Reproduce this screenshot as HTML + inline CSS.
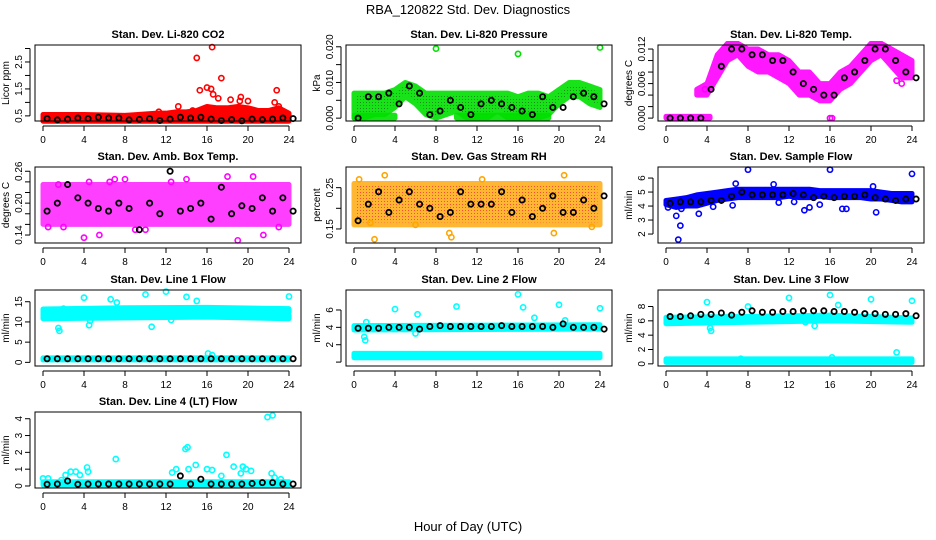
<!DOCTYPE html>
<html><head><meta charset="utf-8"><style>
html,body{margin:0;padding:0;background:#fff}
svg{display:block;font-family:"Liberation Sans",sans-serif}
</style></head><body>
<svg id="c" width="936" height="540" viewBox="0 0 936 540">
<defs>
<pattern id="pat-rh" width="3" height="3" patternUnits="userSpaceOnUse"><rect width="3" height="3" fill="#ffa500"/><rect width="1" height="1" fill="#ff2000"/></pattern>
<pattern id="pat-pr" width="3" height="3" patternUnits="userSpaceOnUse"><rect width="3" height="3" fill="#00e000"/><rect width="1" height="1" fill="#008000"/></pattern>
</defs>
<text x="468" y="14" font-size="13" text-anchor="middle">RBA_120822  Std. Dev. Diagnostics</text>
<text x="468" y="531" font-size="13" text-anchor="middle">Hour of Day (UTC)</text>
</svg>
<script>
// ---- data ----
const xTicks=[0,4,8,12,16,20,24];
// P1 CO2
const co2Band={h:[0,4,8,11,12,13,14,15,16,17,18,19,20,21,22,23,24],lo:[0.3,0.3,0.3,0.3,0.3,0.3,0.3,0.3,0.3,0.3,0.3,0.3,0.3,0.3,0.3,0.3,0.3],hi:[0.55,0.55,0.52,0.6,0.6,0.65,0.65,0.7,0.85,0.8,0.8,0.85,0.8,0.7,0.7,0.8,0.6]};
const co2Out=[[15,2.65],[16.5,3.05],[17.4,1.9],[15.3,1.45],[16,1.55],[16.4,1.5],[16.6,1.3],[17.1,1.15],[18.3,1.1],[19.3,1.2],[19.2,1.05],[20,1.05],[22.8,1.45],[22.6,1.0],[13.2,0.85],[14.6,0.7],[23,0.85],[11.3,0.65]];
const co2Black=[0.4,0.35,0.38,0.42,0.4,0.45,0.42,0.42,0.35,0.37,0.4,0.33,0.38,0.45,0.42,0.45,0.38,0.33,0.36,0.32,0.38,0.36,0.38,0.42,0.4];
// P2 Pressure
const prBand={h:[0,1,2,3,4,5,6,7,8,9,10,11,12,13,14,15,16,17,18,19,20,21,22,23,24],
lo:[0,0,0.001,0.001,0.003,0.006,0.004,0.001,0,0.001,0.002,0,0,0,0.002,0,0,0,0,0.001,0.004,0.006,0.006,0.004,0.003],
hi:[0.007,0.007,0.007,0.007,0.008,0.01,0.009,0.007,0.007,0.007,0.007,0.007,0.007,0.007,0.007,0.007,0.006,0.007,0.007,0.006,0.008,0.01,0.01,0.009,0.008]};
const prBand2={h:[0,4],lo:[0,0],hi:[0.0008,0.0008]};
const prBand3={h:[10,19],lo:[0,0],hi:[0.0008,0.0008]};
const prOut=[[8,0.0195],[16,0.018],[24,0.0198]];
const prBlack=[0,0.006,0.006,0.007,0.004,0.009,0.007,0.001,0.002,0.005,0.003,0.001,0.004,0.005,0.004,0.003,0.002,0.001,0.006,0.003,0.003,0.006,0.007,0.006,0.004];
// P3 Temp
const tpBand={h:[3,4,5,6,7,8,9,10,11,12,13,14,15,16,17,18,19,20,21,22,23,24],
lo:[0.004,0.004,0.007,0.010,0.011,0.009,0.008,0.008,0.007,0.006,0.004,0.004,0.003,0.003,0.005,0.006,0.008,0.010,0.011,0.009,0.007,0.007],
hi:[0.005,0.006,0.011,0.013,0.013,0.012,0.012,0.011,0.011,0.010,0.008,0.008,0.006,0.006,0.008,0.009,0.011,0.013,0.013,0.012,0.011,0.010]};
const tpBand2={h:[0,4.3],lo:[0,0],hi:[0.0003,0.0003]};
const tpOut=[[16,0],[16.2,0],[3.8,0.005],[23,0.006],[22.5,0.0065]];
const tpBlack=[0,0,0,0,0.005,0.009,0.012,0.012,0.011,0.011,0.010,0.010,0.008,0.006,0.005,0.004,0.004,0.007,0.008,0.010,0.012,0.012,0.010,0.008,0.007];
// P4 Amb box
const abBand={h:[0,24],lo:[0.16,0.16],hi:[0.235,0.235]};
const abOut=[[0.5,0.155],[1.5,0.235],[4,0.135],[4.5,0.24],[6.5,0.24],[7,0.245],[8,0.245],[9,0.15],[10,0.15],[14,0.245],[18,0.25],[19,0.13],[20.5,0.25],[21.5,0.14],[23,0.155],[2,0.155],[5.5,0.14],[12.5,0.24]];
const abBlack=[0.185,0.2,0.235,0.21,0.2,0.19,0.185,0.2,0.19,0.15,0.2,0.18,0.26,0.185,0.19,0.2,0.17,0.23,0.18,0.195,0.19,0.21,0.185,0.21,0.185];
// P5 RH
const rhBand={h:[0,24],lo:[0.16,0.16],hi:[0.26,0.26]};
const rhOut=[[2,0.125],[3,0.28],[9.5,0.13],[9.3,0.14],[20.5,0.28],[19.5,0.14],[0.5,0.27],[1.6,0.165],[12.5,0.27],[23.2,0.155],[6,0.16]];
const rhBlack=[0.17,0.21,0.24,0.19,0.22,0.24,0.21,0.2,0.18,0.19,0.24,0.21,0.21,0.21,0.24,0.19,0.22,0.18,0.2,0.23,0.19,0.19,0.22,0.2,0.23];
// P6 Sample flow
const sfBand={h:[0,1,2,3,4,5,6,7,8,9,10,11,12,13,14,15,16,17,18,19,20,21,22,23,24],
lo:[4.1,3.9,4.0,4.0,4.2,4.4,4.5,4.6,4.6,4.6,4.6,4.6,4.7,4.6,4.6,4.7,4.6,4.6,4.6,4.6,4.5,4.5,4.4,4.3,4.3],
hi:[4.4,4.5,4.6,4.8,4.9,5.0,5.1,5.2,5.2,5.2,5.2,5.2,5.2,5.2,5.2,5.1,5.1,5.1,5.1,5.1,5.1,5.0,4.9,4.9,4.9]};
const sfOut=[[1,3.3],[1.2,1.6],[1.4,2.6],[1.5,3.8],[3.2,3.45],[6.5,4.05],[6.8,5.6],[8,6.6],[10.5,5.55],[13.5,3.7],[14,3.9],[15,4.1],[16,6.6],[17.2,3.8],[17.6,3.8],[20.2,5.4],[20.5,3.55],[24,6.3],[11,4.25],[12.5,4.3],[0.2,3.9],[4.6,3.95]];
const sfBlack=[4.2,4.3,4.3,4.3,4.4,4.4,4.7,5.0,4.8,4.8,4.8,4.8,4.9,4.8,4.6,4.7,4.6,4.7,4.7,4.8,4.6,4.5,4.4,4.5,4.5];
// P7 Line 1
const l1BandA={h:[0,8,16,24],lo:[10.8,11.0,11.2,10.8],hi:[11.8,12.0,12.2,11.6]};
const l1BandB={h:[0,8,16,24],lo:[12.0,12.4,12.6,12.4],hi:[13.2,13.5,13.6,13.3]};
const l1BandC={h:[0,24],lo:[0.6,0.6],hi:[1.1,1.1]};
const l1Out=[[1.5,8.5],[1.6,7.8],[2,13.3],[4,16],[4.5,9.2],[4.6,10.3],[6.6,15.6],[7.2,14.8],[10,16.8],[10.6,8.8],[12,17.5],[14,16.2],[15,15.2],[16.1,2.2],[16.5,1.8],[24,16.3],[12.5,10.5]];
const l1Black=[0.9,0.9,0.9,0.9,0.9,0.9,0.9,0.9,0.9,0.9,0.9,0.9,0.9,0.9,0.9,0.9,0.9,0.9,0.9,0.9,0.9,0.9,0.9,0.9,0.9];
// P8 Line 2
const l2BandA={h:[0,24],lo:[3.7,3.8],hi:[4.2,4.3]};
const l2BandB={h:[0,24],lo:[0.5,0.5],hi:[1.0,1.0]};
const l2Out=[[1,2.9],[1.1,2.5],[1.2,4.6],[4,6.1],[6.2,5.5],[6,3.3],[10,6.4],[16,7.8],[16.5,6.3],[17.6,5.1],[20,6.6],[20.6,4.8],[24,6.2]];
const l2Black=[3.9,3.9,3.9,4.0,4.0,4.0,3.8,4.1,4.2,4.1,4.1,4.1,4.1,4.1,4.2,4.1,4.1,4.1,4.1,4.0,4.4,4.0,4.0,4.0,3.8];
// P9 Line 3
const l3BandA={h:[0,8,16,24],lo:[5.6,5.8,6.0,5.8],hi:[6.5,6.6,6.8,6.4]};
const l3BandB={h:[0,24],lo:[0.2,0.2],hi:[0.7,0.7]};
const l3Out=[[4,8.6],[4.3,5],[4.4,4.6],[8,8],[12,9.2],[16,9.6],[16.8,8.2],[20,9],[24,8.8],[14.5,5.3],[22.5,1.6],[7.3,0.7],[16.2,0.9],[13.6,5.8]];
const l3Black=[6.6,6.6,6.7,6.9,6.9,7.1,6.8,7.2,7.4,7.2,7.2,7.3,7.3,7.4,7.4,7.4,7.3,7.3,7.2,7.0,7.0,6.9,6.9,7.0,6.7];
// P10 Line 4
const l4Band={h:[0,24],lo:[0.05,0.05],hi:[0.25,0.25]};
const l4Out=[[0,0.45],[0.5,0.45],[1.8,0.35],[2.2,0.65],[2.7,0.85],[3.2,0.85],[3.6,0.65],[4.3,1.1],[4.4,0.85],[7.1,1.6],[12.6,0.8],[13,1.0],[13.9,2.2],[14.1,2.3],[14.2,1.0],[14.9,1.25],[16,1.0],[16.5,0.95],[17.4,0.6],[17.9,1.85],[18.6,1.15],[19.3,0.75],[19.5,1.15],[19.8,1.0],[20.3,0.9],[21.9,4.1],[22.4,4.2],[22.3,0.75],[22.6,0.5],[23.2,0.4]];
const l4Black=[0.1,0.12,0.3,0.1,0.12,0.12,0.12,0.12,0.12,0.12,0.12,0.12,0.12,0.6,0.12,0.4,0.12,0.12,0.12,0.12,0.15,0.2,0.2,0.12,0.12];

const panels=[
 {name:'co2',title:'Stan. Dev. Li-820 CO2',yl:'Licor ppm',col:'#ff0000',fill:'#ff0000',op:1,dom:[0.31,3.13],ticks:[0.5,1,1.5,2,2.5,3],labs:[0.5,1.5,2.5],fmt:1,bands:[co2Band],out:co2Out,black:co2Black,r:0,c:0},
 {name:'pressure',title:'Stan. Dev. Li-820 Pressure',yl:'kPa',col:'#00e000',fill:'url(#pat-pr)',op:0.9,dom:[-0.0008,0.0205],ticks:[0,0.005,0.01,0.015,0.02],labs:[0,0.01,0.02],fmt:3,bands:[prBand,prBand2,prBand3],out:prOut,black:prBlack,r:0,c:1},
 {name:'temp',title:'Stan. Dev. Li-820 Temp.',yl:'degrees C',col:'#ff00ff',fill:'#ff00ff',op:0.9,dom:[-0.0005,0.0127],ticks:[0,0.002,0.004,0.006,0.008,0.01,0.012],labs:[0,0.006,0.012],fmt:3,bands:[tpBand,tpBand2],out:tpOut,black:tpBlack,r:0,c:2},
 {name:'amb-box',title:'Stan. Dev. Amb. Box Temp.',yl:'degrees C',col:'#ff00ff',fill:'#ff00ff',op:0.75,dom:[0.125,0.268],ticks:[0.14,0.16,0.18,0.2,0.22,0.24,0.26],labs:[0.14,0.2,0.26],fmt:2,bands:[abBand],out:abOut,black:abBlack,r:1,c:0},
 {name:'rh',title:'Stan. Dev. Gas Stream RH',yl:'percent',col:'#ffa500',fill:'url(#pat-rh)',op:0.8,dom:[0.116,0.30],ticks:[0.15,0.2,0.25],labs:[0.15,0.25],fmt:2,bands:[rhBand],out:rhOut,black:rhBlack,r:1,c:1},
 {name:'sample-flow',title:'Stan. Dev. Sample Flow',yl:'ml/min',col:'#0000ff',fill:'#0000ff',op:1,dom:[1.36,6.79],ticks:[2,3,4,5,6],labs:[2,3,4,5,6],fmt:0,bands:[sfBand],out:sfOut,black:sfBlack,r:1,c:2},
 {name:'line1',title:'Stan. Dev. Line 1 Flow',yl:'ml/min',col:'#00ffff',fill:'#00ffff',op:1,dom:[-0.9,17.9],ticks:[0,5,10,15],labs:[0,5,10,15],fmt:0,bands:[l1BandA,l1BandB,l1BandC],out:l1Out,black:l1Black,r:2,c:0},
 {name:'line2',title:'Stan. Dev. Line 2 Flow',yl:'ml/min',col:'#00ffff',fill:'#00ffff',op:1,dom:[-0.45,8.3],ticks:[0,2,4,6],labs:[2,4,6],fmt:0,bands:[l2BandA,l2BandB],out:l2Out,black:l2Black,r:2,c:1},
 {name:'line3',title:'Stan. Dev. Line 3 Flow',yl:'ml/min',col:'#00ffff',fill:'#00ffff',op:1,dom:[-0.3,10.3],ticks:[0,2,4,6,8],labs:[0,2,4,6,8],fmt:0,bands:[l3BandA,l3BandB],out:l3Out,black:l3Black,r:2,c:2},
 {name:'line4',title:'Stan. Dev. Line 4 (LT) Flow',yl:'ml/min',col:'#00ffff',fill:'#00ffff',op:1,dom:[-0.12,4.4],ticks:[0,1,2,3,4],labs:[0,1,2,3,4],fmt:0,bands:[l4Band],out:l4Out,black:l4Black,r:3,c:0}
];
const NS='http://www.w3.org/2000/svg';
const svg=document.getElementById('c');
function mk(tag,attrs,parent){const e=document.createElementNS(NS,tag);for(const k in attrs)e.setAttribute(k,attrs[k]);(parent||svg).appendChild(e);return e;}
const colX=[35,346,658], rowY=[45,167,290,412], W=266, H=76;
panels.forEach(p=>{
 const L=colX[p.c], T=rowY[p.r], R=L+W, B=T+H;
 const g=mk('g',{});
 
 
 const xs=h=>L+8+h*(246/24);
 const ys=v=>B-(v-p.dom[0])/(p.dom[1]-p.dom[0])*H;
 const clipId='clip-'+p.name;
 const cp=mk('clipPath',{id:clipId},g); mk('rect',{x:L,y:T-4,width:W,height:H+8},cp);
 const plot=mk('g',{'clip-path':'url(#'+clipId+')'},g);
 
 
 p.bands.forEach(b=>{
  let pts=b.h.map((h,i)=>xs(h)+','+ys(b.hi[i]));
  pts=pts.concat(b.h.map((h,i)=>xs(h)+','+ys(b.lo[i])).reverse());
  const poly=mk('polygon',{points:pts.join(' '),fill:p.fill,stroke:p.col,'stroke-width':5,'stroke-linejoin':'round',opacity:p.op},plot);
  
  
 });
 p.out.forEach(o=>{
  const c=mk('circle',{cx:xs(o[0]),cy:ys(o[1]),r:2.6,fill:'none',stroke:p.col,'stroke-width':1.6},plot);
  
  
 });
 p.black.forEach((v,i)=>{
  const c=mk('circle',{cx:xs(i+0.4),cy:ys(v),r:2.6,fill:'none',stroke:'#000','stroke-width':1.8},plot);
  
  
 });
 const box=mk('rect',{x:L,y:T,width:W,height:H,fill:'none',stroke:'#000','stroke-width':1},g);
 
 
 const t=mk('text',{x:L+W/2,y:T-7,'font-size':11,'font-weight':'bold','text-anchor':'middle'},g);
 t.textContent=p.title;
 
 
 const xl=mk('line',{x1:xs(0),x2:xs(24),y1:B+5,y2:B+5,stroke:'#000'},g);
 
 
 xTicks.forEach(h=>{
  mk('line',{x1:xs(h),x2:xs(h),y1:B+5,y2:B+10,stroke:'#000'},g);
  const tx=mk('text',{x:xs(h),y:B+22,'font-size':10,'text-anchor':'middle'},g);
  tx.textContent=h;
  
  
 });
 const y0=ys(p.ticks[0]), y1=ys(p.ticks[p.ticks.length-1]);
 mk('line',{x1:L-5,x2:L-5,y1:y0,y2:y1,stroke:'#000'},g);
 p.ticks.forEach(v=>{mk('line',{x1:L-10,x2:L-5,y1:ys(v),y2:ys(v),stroke:'#000'},g);});
 p.labs.forEach(v=>{
  const tx=mk('text',{x:L-13,y:ys(v),'font-size':10,'text-anchor':'middle',transform:'rotate(-90 '+(L-13)+' '+ys(v)+')'},g);
  tx.textContent=v.toFixed(p.fmt);
  
  
 });
 const yt=mk('text',{x:L-26,y:T+H/2,'font-size':10,'text-anchor':'middle',transform:'rotate(-90 '+(L-26)+' '+(T+H/2)+')'},g);
 yt.textContent=p.yl;
 
 
});
</script>
</body></html>
